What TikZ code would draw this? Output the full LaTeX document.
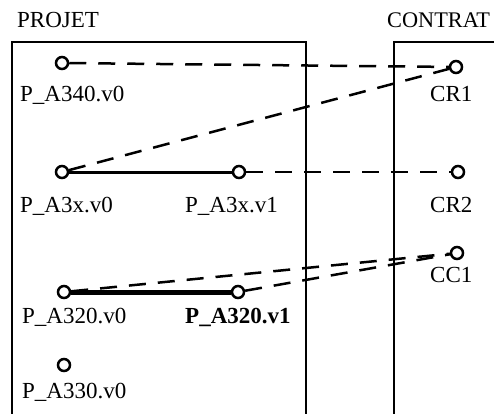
\documentclass[tikz,border=0pt]{standalone}
\usepackage{fontspec}
\setmainfont{Liberation Serif}
\begin{document}
\begin{tikzpicture}[x=1pt,y=-1pt,
  pt/.style={circle,draw,line width=2.5pt,fill=white,minimum size=12pt,inner sep=0pt},
  lbl/.style={anchor=base west,inner sep=0pt,font=\fontsize{23}{27}\selectfont},
  frame/.style={line width=2.2pt},
  link/.style={line width=2.5pt,dash pattern=on 17pt off 12pt},
  ver/.style={line width=3pt},
  verthick/.style={line width=5pt}]
\useasboundingbox (0,0) rectangle (494,413);
% frames
\coordinate (pbl) at (12,414);
\coordinate (ptl) at (12,42);
\coordinate (ptr) at (306,42);
\coordinate (pbr) at (306,414);
\coordinate (cbl) at (394,414);
\coordinate (ctl) at (394,42);
\coordinate (ctr) at (495,42);
\draw[frame] (pbl) -- (ptl) -- (ptr) -- (pbr);
\draw[frame] (cbl) -- (ctl) -- (ctr);
\node[lbl] (tproj) at (17,27) {PROJET};
\node[lbl,font=\fontsize{22.3}{27}\selectfont] (tcontr) at (387,27) {CONTRAT};
% points
\node[pt] (a340) at (62,63) {};
\node[pt] (a3x0) at (62,172) {};
\node[pt] (a3x1) at (239,172) {};
\node[pt] (a3200) at (64,292) {};
\node[pt] (a3201) at (238,292) {};
\node[pt] (a330) at (64,365) {};
\node[pt] (cr1) at (456,67) {};
\node[pt] (cr2) at (458,172) {};
\node[pt] (cc1) at (457,253) {};
% labels
\node[lbl] (l340) at (20,101) {P\_A340.v0};
\node[lbl] (l3x0) at (20,212) {P\_A3x.v0};
\node[lbl] (l3x1) at (185,212) {P\_A3x.v1};
\node[lbl] (l3200) at (22,323) {P\_A320.v0};
\node[lbl,font=\fontsize{23}{27}\selectfont\bfseries] (l3201) at (185,323) {P\_A320.v1};
\node[lbl] (l330) at (22,398) {P\_A330.v0};
\node[lbl] (lcr1) at (430,101) {CR1};
\node[lbl] (lcr2) at (430,212) {CR2};
\node[lbl] (lcc1) at (430,282) {CC1};
% links
\draw[link] (a340) -- (cr1);
\draw[link] (a3x0) -- (cr1);
\draw[link] (a3x1) -- (cr2);
\draw[link] (a3200) -- (cc1);
\draw[link] (a3201) -- (cc1);
\draw[ver] (a3x0) -- (a3x1);
\draw[verthick] (a3200) -- (a3201);
\end{tikzpicture}
\end{document}
